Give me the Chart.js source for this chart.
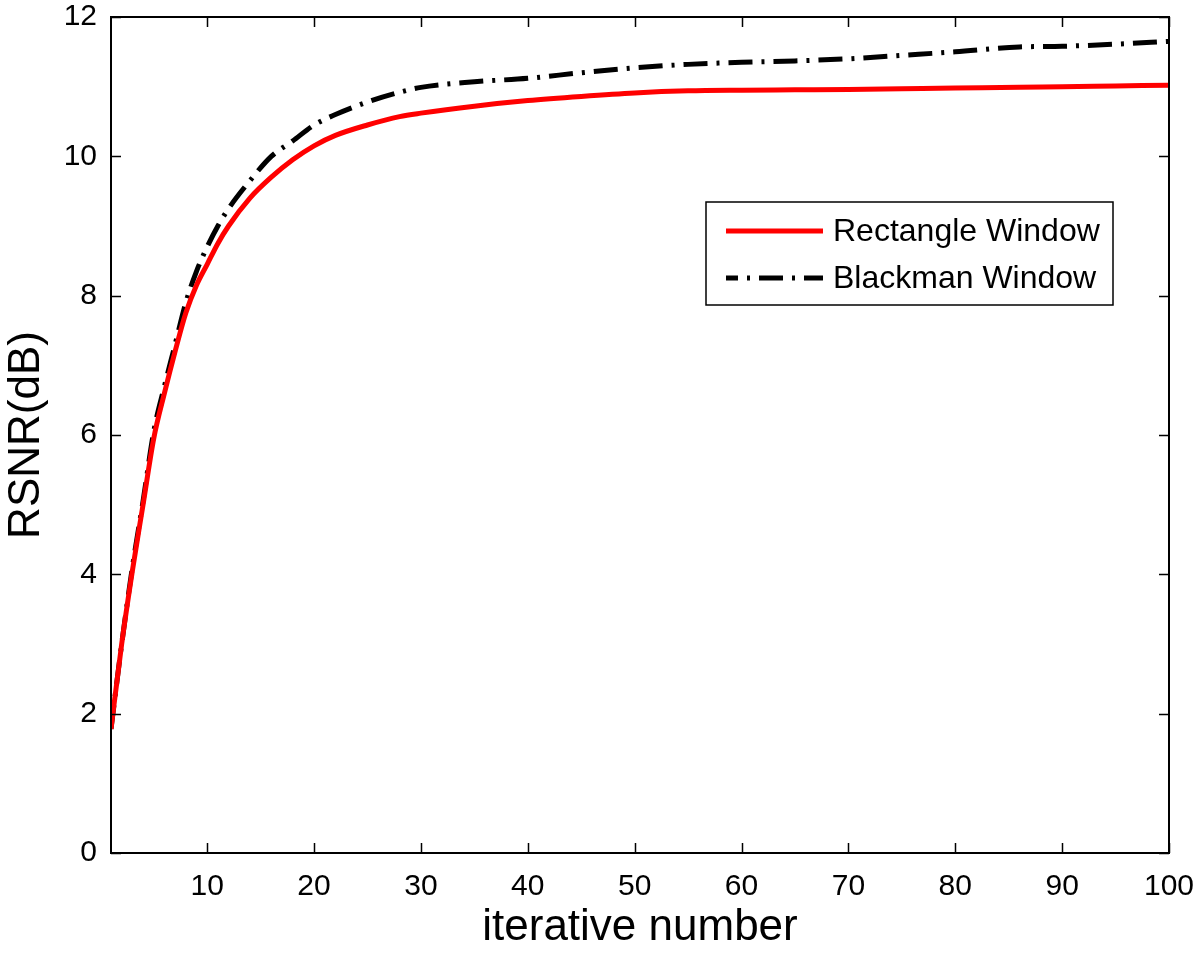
<!DOCTYPE html>
<html>
<head>
<meta charset="utf-8">
<script src="https://cdn.jsdelivr.net/npm/chart.js@4/dist/chart.umd.min.js"></script>
<style>
  html, body { margin: 0; padding: 0; background: #fff; }
</style>
</head>
<body>
<canvas id="grafica" width="1200" height="954"></canvas>
<script>
const iterations = [1, 2, 3, 4, 5, 6, 7, 8, 9, 10, 11, 12, 14, 16, 18, 20, 22, 25, 28, 30, 35, 40, 45, 50, 55, 60, 65, 70, 75, 80, 86, 90, 95, 100];
const rectangle = [1.78, 3.0, 4.05, 5.0, 5.95, 6.6, 7.2, 7.75, 8.15, 8.45, 8.75, 9.0, 9.4, 9.7, 9.95, 10.15, 10.3, 10.45, 10.57, 10.62, 10.72, 10.8, 10.86, 10.91, 10.94, 10.95, 10.955, 10.96, 10.97, 10.98, 10.99, 11.0, 11.01, 11.02];
const blackman = [1.78, 3.0, 4.1, 5.05, 6.05, 6.7, 7.3, 7.9, 8.35, 8.7, 9.0, 9.25, 9.65, 10.0, 10.22, 10.45, 10.6, 10.78, 10.92, 10.99, 11.07, 11.12, 11.2, 11.27, 11.32, 11.35, 11.37, 11.4, 11.45, 11.5, 11.57, 11.58, 11.61, 11.65];
const xTicks = [10, 20, 30, 40, 50, 60, 70, 80, 90, 100];
const yTicks = [0, 2, 4, 6, 8, 10, 12];
const seriesNames = ['Rectangle Window', 'Blackman Window'];

const FONT = 'Liberation Sans, Arial, Helvetica, sans-serif';
const dashDot = [24, 9, 3, 9];

const graph = document.querySelector('#grafica');

// frame, inward ticks and legend box (matlab style)
const framePlugin = {
  id: 'frame',
  afterDatasetsDraw(chart) {
    const ctx = chart.ctx;
    const a = chart.chartArea;
    const xs = chart.scales.x, ys = chart.scales.y;
    const tl = 10;
    ctx.save();
    ctx.strokeStyle = '#000';
    ctx.lineWidth = 2;
    ctx.strokeRect(a.left, a.top, a.right - a.left, a.bottom - a.top);
    ctx.lineWidth = 1.5;
    ctx.beginPath();
    xTicks.forEach(v => {
      const px = Math.round(xs.getPixelForValue(v)) + 0.5;
      ctx.moveTo(px, a.bottom); ctx.lineTo(px, a.bottom - tl);
      ctx.moveTo(px, a.top); ctx.lineTo(px, a.top + tl);
    });
    yTicks.forEach(v => {
      const py = Math.round(ys.getPixelForValue(v)) + 0.5;
      ctx.moveTo(a.left, py); ctx.lineTo(a.left + tl, py);
      ctx.moveTo(a.right, py); ctx.lineTo(a.right - tl, py);
    });
    ctx.stroke();

    // legend
    const bx = 706, by = 202, bw = 407, bh = 103;
    ctx.fillStyle = '#fff';
    ctx.fillRect(bx, by, bw, bh);
    ctx.lineWidth = 1.5;
    ctx.strokeRect(bx, by, bw, bh);
    ctx.font = '32px ' + FONT;
    ctx.textBaseline = 'middle';
    chart.data.datasets.forEach((ds, i) => {
      const ly = by + 29 + i * 47;
      ctx.beginPath();
      ctx.strokeStyle = ds.borderColor;
      ctx.lineWidth = ds.borderWidth;
      ctx.setLineDash(ds.borderDash || []);
      ctx.lineDashOffset = ds.borderDash ? 12 : 0;
      ctx.moveTo(bx + 20, ly); ctx.lineTo(bx + 117, ly);
      ctx.stroke();
      ctx.setLineDash([]);
      ctx.fillStyle = '#000';
      ctx.fillText(ds.label, bx + 127, ly + 1);
    });
    ctx.restore();
  }
};

const data = {
  labels: iterations,
  datasets: [{
    label: seriesNames[0],
    data: iterations.map((x, i) => ({ x: x, y: rectangle[i] })),
    borderColor: '#ff0000',
    borderWidth: 5,
    pointRadius: 0,
    cubicInterpolationMode: 'monotone',
    fill: false
  }, {
    label: seriesNames[1],
    data: iterations.map((x, i) => ({ x: x, y: blackman[i] })),
    borderColor: '#000000',
    borderWidth: 5,
    borderDash: dashDot,
    pointRadius: 0,
    cubicInterpolationMode: 'monotone',
    fill: false
  }]
};

const config = {
  type: 'line',
  data: data,
  options: {
    responsive: false,
    animation: false,
    devicePixelRatio: 1,
    layout: { padding: { top: 17, right: 31, left: 0, bottom: 0 } },
    plugins: { legend: { display: false }, tooltip: { enabled: false } },
    scales: {
      x: {
        type: 'linear',
        min: 1,
        max: 100,
        afterBuildTicks: s => { s.ticks = xTicks.map(v => ({ value: v })); },
        afterFit: s => { s.height = 101; s.paddingLeft = 0; s.paddingRight = 0; },
        grid: { display: false },
        border: { display: false },
        ticks: { color: '#000', font: { family: FONT, size: 30 }, padding: 8, maxRotation: 0 },
        title: { display: true, text: 'iterative number', color: '#000', font: { family: FONT, size: 44 }, padding: { top: 0, bottom: 0 } }
      },
      y: {
        min: 0,
        max: 12,
        afterBuildTicks: s => { s.ticks = yTicks.map(v => ({ value: v })); },
        afterFit: s => { s.width = 111; s.paddingTop = 0; s.paddingBottom = 0; },
        grid: { display: false },
        border: { display: false },
        ticks: { color: '#000', font: { family: FONT, size: 30 }, padding: 6 },
        title: { display: true, text: 'RSNR(dB)', color: '#000', font: { family: FONT, size: 44 }, padding: { top: 0, bottom: 4 } }
      }
    }
  },
  plugins: [framePlugin]
};
new Chart(graph, config);
</script>
</body>
</html>
